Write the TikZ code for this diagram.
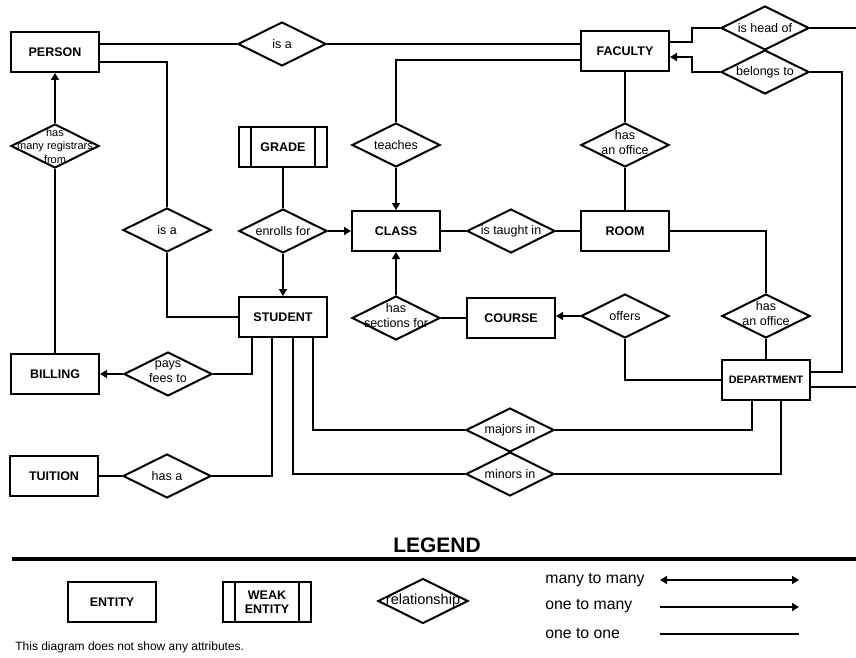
\documentclass[tikz,border=0pt]{standalone}
\usepackage{fontspec}
\setmainfont{Liberation Sans}
\usetikzlibrary{shapes.geometric, arrows.meta}

\begin{document}
\begin{tikzpicture}[
    x=1pt, y=-1pt, line width=2pt,
    ent/.style={draw, rectangle, minimum width=88pt, minimum height=40pt,
                inner sep=0pt, align=center, font=\fontsize{12.5}{14}\bfseries\selectfont},
    dia/.style={draw, diamond, minimum width=88pt, minimum height=44pt, inner sep=0pt},
    reltext/.style={font=\fontsize{12.5}{15}\selectfont, align=center},
    rel/.style={dia, label={[reltext]center:#1}},
    reltwo/.style={dia, label={[reltext, yshift=2.5pt]center:#1}},
    arr/.style={-{Triangle[length=7pt, width=8pt]}},
    txt/.style={anchor=west, font=\fontsize{15.8}{18}\selectfont}]
    \useasboundingbox (0,0) rectangle (856,658);

    \node[ent] (person)  at (55,52)   {PERSON};
    \node[ent] (faculty) at (625,51)  {FACULTY};
    \node[ent] (grade)   at (283,147) {GRADE};
    \node[ent] (class)   at (396,231) {CLASS};
    \node[ent] (room)    at (625,231) {ROOM};
    \node[ent] (student) at (283,317) {STUDENT};
    \node[ent] (course)  at (511,318) {COURSE};
    \node[ent, font=\fontsize{10.8}{13}\bfseries\selectfont] (department) at (766,380) {DEPARTMENT};
    \node[ent] (billing) at (55,374)  {BILLING};
    \node[ent] (tuition) at (54,476)  {TUITION};

    \node[rel={is a}]              (isaF)     at (282,44)  {};
    \node[rel={is a}]              (isaS)     at (167,230) {};
    \node[dia, label={[reltext, font=\fontsize{11}{13.5}\selectfont]center:has\\many registrars\\from}]
                                   (registrars) at (55,146) {};
    \node[rel=teaches]             (teaches)  at (396,145) {};
    \node[reltwo={has\\an office}] (officeF)  at (625,145) {};
    \node[rel={is head of}]        (headof)   at (765,28)  {};
    \node[rel={belongs to}]        (belongs)  at (765,72)  {};
    \node[rel={enrolls for}]       (enrolls)  at (283,231) {};
    \node[rel={is taught in}]      (taught)   at (511,231) {};
    \node[reltwo={has\\sections for}] (sections) at (396,318) {};
    \node[rel=offers]              (offers)   at (625,316) {};
    \node[reltwo={has\\an office}] (officeD)  at (766,316) {};
    \node[reltwo={pays\\fees to}]  (pays)     at (168,374) {};
    \node[rel={has a}]             (hasa)     at (167,476) {};
    \node[rel={majors in}]         (majors)   at (510,430) {};
    \node[rel={minors in}]         (minors)   at (510,474) {};

    \draw (isaF.west -| person.east) -- (isaF.west) (isaF.east) -- (isaF.east -| faculty.west);
    \draw ([yshift=-10pt]person.east) -| (isaS.north);
    \draw (isaS.south) |- (student.west);
    \draw[arr] (registrars.north) -- (person.south);
    \draw (billing.north) -- (registrars.south);
    \draw (teaches.north) |- ([yshift=-9pt]faculty.west);
    \draw[arr] (teaches.south) -- (class.north);
    \draw (grade.south) -- (enrolls.north);
    \draw[arr] (enrolls.east) -- (class.west);
    \draw[arr] (enrolls.south) -- (student.north);
    \draw (class.east) -- (taught.west) (taught.east) -- (room.west);
    \draw (faculty.south) -- (officeF.north) (officeF.south) -- (room.north);
    \draw (room.east) -| (officeD.north);
    \draw (officeD.south) -- (department.north);
    \draw[arr] (offers.west) -- (offers.west -| course.east);
    \draw (offers.south) |- (department.west);
    \draw (course.west) -- (sections.east);
    \draw[arr] (sections.north) -- (class.south);
    \draw[arr] (pays.west) -- (billing.east);
    \draw (pays.east) -| ([xshift=-31pt]student.south);
    \draw (tuition.east) -- (hasa.west);
    \draw (hasa.east) -| ([xshift=-11pt]student.south);
    \draw ([xshift=10pt]student.south) |- (minors.west);
    \draw ([xshift=30pt]student.south) |- (majors.west);
    \draw (majors.east) -| ([xshift=-14pt]department.south);
    \draw (minors.east) -| ([xshift=15pt]department.south);
    \draw ([yshift=9pt]faculty.east) -| ([xshift=-28pt]headof.west) -- (headof.west);
    \draw[arr] (belongs.west) -- ([xshift=-28pt]belongs.west) |- ([yshift=-6pt]faculty.east);
    \draw (belongs.east) -| ([xshift=31pt, yshift=8pt]department.east) -- ([yshift=8pt]department.east);
    \coordinate (edgeA) at (856,28);
    \coordinate (edgeB) at (856,387);
    \draw (headof.east) -- (edgeA);
    \draw ([yshift=-7pt]department.east) -- (edgeB);

    \node[font=\fontsize{21}{25}\bfseries\selectfont] (legend) at (437,545) {LEGEND};
    \coordinate (ruleL) at (12,559);
    \coordinate (ruleR) at (856,559);
    \draw[line width=4.5pt] (ruleL) -- (ruleR);
    \node[ent] (entity) at (112,602) {ENTITY};
    \node[ent] (weak)   at (267,602) {WEAK\\ENTITY};
    \node[dia, minimum width=90pt, minimum height=45pt,
          label={[reltext, font=\fontsize{14.5}{16}\selectfont]center:relationship}] (relationship) at (423,601) {};
    \foreach \n in {grade, weak}
        \draw ([xshift=13pt]\n.north west) -- ([xshift=13pt]\n.south west)
              ([xshift=-13pt]\n.north east) -- ([xshift=-13pt]\n.south east);

    \node[txt] (mm) at (541,580) {many to many};
    \node[txt] (om) at (541,606) {one to many};
    \node[txt] (oo) at (541,633) {one to one};
    \foreach \n/\y in {mm/580, om/607, oo/634} {
        \coordinate (\n a) at (660,\y);
        \coordinate (\n b) at (799,\y);
    }
    \draw[{Triangle[length=7pt, width=8pt]}-{Triangle[length=7pt, width=8pt]}] (mma) -- (mmb);
    \draw[arr] (oma) -- (omb);
    \draw (ooa) -- (oob);
    \node[anchor=west, font=\fontsize{12}{14}\selectfont] (note) at (11,647)
        {This diagram does not show any attributes.};
\end{tikzpicture}
\end{document}
